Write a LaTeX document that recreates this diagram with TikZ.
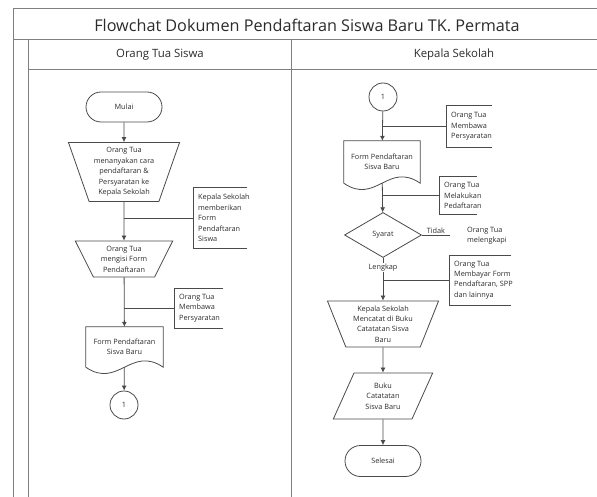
\documentclass[tikz,border=0pt]{standalone}
\usepackage{fontspec}
\setmainfont{Open Sans}
\usetikzlibrary{arrows.meta, shapes.geometric, shapes.misc}

\definecolor{lanegray}{HTML}{7F7F7F}
\definecolor{shapegray}{HTML}{4A4A4A}
\definecolor{txtgray}{HTML}{2B2B2B}

\newcommand{\flowfont}{\fontsize{7.3}{10.4}\selectfont}

\tikzset{
  frame/.style={draw=lanegray, line width=1pt},
  outline/.style={draw=shapegray, line width=0.8pt},
  base/.style={outline, text=txtgray, font=\flowfont, align=center, inner sep=1pt},
  terminal/.style={base, rounded rectangle, minimum width=78pt, minimum height=30pt},
  manual/.style={base, trapezium, shape border rotate=180, trapezium stretches=true},
  io/.style={base, trapezium, trapezium left angle=65, trapezium right angle=115, trapezium stretches=true},
  document/.style={text=txtgray, font=\flowfont, align=center, inner sep=1pt},
  decision/.style={base, diamond, minimum width=77pt, minimum height=45pt, inner sep=0pt},
  connector/.style={base, circle, minimum size=28pt},
  annot/.style={anchor=west, align=left, text=txtgray, font=\flowfont, inner xsep=5pt, inner ysep=2pt},
  arrow/.style={outline, -{Latex[length=5pt,width=5pt]}},
}

% bracket of an annotation, #2 = length of its arms
\newcommand{\annotbox}[2]{\draw[outline, line width=0.6pt] ([xshift=#2]#1.north west) -- (#1.north west) -- (#1.south west) -- ([xshift=#2]#1.south west);}
% document outline with a wavy bottom
\newcommand{\docshape}[1]{\draw[outline] (#1.south west) -- (#1.north west) -- (#1.north east) -- (#1.south east) .. controls +(-32,-22) and +(32,22) .. (#1.south west);}

\begin{document}
\begin{tikzpicture}[x=1pt,y=-1pt]
  \useasboundingbox (0,0) rectangle (597,497);

  % swimlanes
  \draw[frame] (597,9) -- (13,9) -- (13,497);
  \draw[frame] (13,40) -- (597,40);
  \draw[frame] (28,40) -- (28,497);
  \draw[frame] (28,70) -- (597,70);
  \draw[frame] (291,40) -- (291,497);
  \node (title) at (307,25) [text=txtgray, font=\fontsize{16.2}{19}\selectfont] {Flowchat Dokumen Pendaftaran Siswa Baru TK. Permata};
  \node (laneA) at (160,55) [text=txtgray, font=\fontsize{11.4}{13}\selectfont] {Orang Tua Siswa};
  \node (laneB) at (454,55) [text=txtgray, font=\fontsize{11.4}{13}\selectfont] {Kepala Sekolah};

  % Orang Tua Siswa
  \node (A) at (124,107) [terminal] {Mulai};
  \node (B) at (124,172) [manual, minimum width=112pt, minimum height=59pt, trapezium angle=70] {Orang Tua\\menanyakan cara\\pendaftaran \&\\Persyaratan ke\\Kepala Sekolah};
  \node (K1) at (193,218) [annot, minimum height=60pt] {Kepala Sekolah\\memberikan\\Form\\Pendaftaran\\Siswa};
  \node (C) at (124,259) [manual, minimum width=98pt, minimum height=36pt, trapezium angle=63] {Orang Tua\\mengisi Form\\Pendaftaran};
  \node (K2) at (174,308) [annot, minimum height=40pt] {Orang Tua\\Membawa\\Persyaratan};
  \node (D) at (124.5,347) [document, minimum width=77pt, minimum height=40pt] {Form Pendaftaran\\Sisva Baru};
  \node (E) at (124,405) [connector] {1};
  \annotbox{K1}{54pt}
  \annotbox{K2}{49pt}
  \docshape{D}
  \draw[arrow] (A) -- (B);
  \draw[arrow] (B) -- (C);
  \draw[arrow] (C) -- (D);
  \draw[arrow] (D) -- (E);
  \draw[outline] (B |- K1.west) -- (K1.west);
  \draw[outline] (C |- K2.west) -- (K2.west);

  % Kepala Sekolah
  \node (F) at (383,97) [connector] {1};
  \node (K3) at (446,126.5) [annot, minimum height=41pt] {Orang Tua\\Membawa\\Persyaratan};
  \node (G) at (382,162) [document, minimum width=76pt, minimum height=42pt] {Form Pendaftaran\\Sisva Baru};
  \node (K4) at (439,195.5) [annot, minimum height=37pt] {Orang Tua\\Melakukan\\Pedaftaran};
  \node (H) at (383,235) [decision] {Syarat};
  \coordinate (t) at (450,235);
  \node (M) at (462,236) [annot] {Orang Tua\\melengkapi};
  \node (K5) at (449,280) [annot, minimum height=50pt] {Orang Tua\\Membayar Form\\Pendaftaran, SPP\\dan lainnya};
  \node (I) at (383,324) [manual, minimum width=112pt, minimum height=46pt, trapezium angle=68.6] {Kepala Sekolah\\Mencatat di Buku\\Catatatan Sisva\\Baru};
  \node (J) at (383,396) [io, minimum width=100pt, minimum height=46pt] {Buku\\Catatatan\\Sisva Baru};
  \node (L) at (383,461) [terminal, minimum height=31pt] {Selesai};
  \annotbox{K3}{46pt}
  \annotbox{K4}{38pt}
  \annotbox{K5}{62pt}
  \docshape{G}
  \draw[arrow] (F) -- (G);
  \draw[arrow] (G) -- (H);
  \draw[arrow] (H) -- node[pos=0.22, fill=white, text=txtgray, font=\flowfont, inner sep=1pt] {Lengkap} (I);
  \draw[arrow] (I) -- (J);
  \draw[arrow] (J) -- (L);
  \draw[outline] (H.east) -- node[above, text=txtgray, font=\flowfont, inner sep=1pt] {Tidak} (t);
  \draw[outline] (F |- K3.west) -- (K3.west);
  \draw[outline] (G |- K4.west) -- (K4.west);
  \draw[outline] (H |- K5.west) -- (K5.west);
\end{tikzpicture}
\end{document}
